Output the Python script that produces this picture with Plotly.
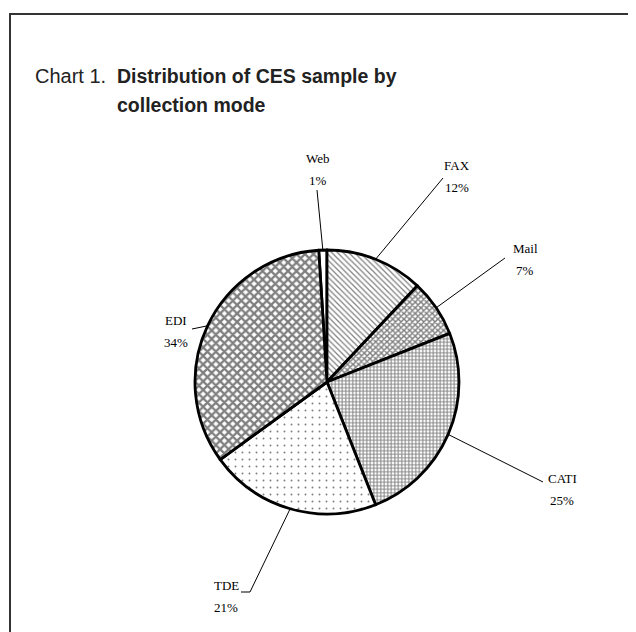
import math
import plotly.graph_objects as go

# ---- data ----
modes = ["Web", "FAX", "Mail", "CATI", "TDE", "EDI"]
shares = [1, 12, 7, 25, 21, 34]
pct_labels = ["1%", "12%", "7%", "25%", "21%", "34%"]

# ---- styling / layout (coordinates in screenshot pixels) ----
W, H = 636, 632
OFF = 8                              # page body margin
CX, CY, R = 327, 382, 132            # pie centre & radius
patterns = ["", "\\", "x", "+", ".", "x"]
pat_size = [4, 4, 4, 3.5, 7, 6]
pat_sol = [0.1, 0.3, 0.6, 0.5, 0.06, 0.62]
label_pos = [(318, 158), (457, 165), (525, 248), (562, 478), (226, 585), (176, 320)]
leader_end = [(317, 190), (443, 178), (505, 258), (543, 482), (250, 592), (192, 329)]
LINE_GAP = 22

fig = go.Figure()

fig.add_trace(go.Scatter(x=[OFF, W + OFF], y=[OFF, H + OFF], mode="markers",
                         marker=dict(opacity=0), hoverinfo="skip", showlegend=False))

fig.add_trace(go.Pie(
    labels=modes, values=shares, sort=False, direction="clockwise",
    rotation=-360 * shares[0] / sum(shares),
    textinfo="none", hoverinfo="label+percent", showlegend=False,
    marker=dict(colors=["white"] * len(modes),
                line=dict(color="black", width=2.8),
                pattern=dict(shape=patterns, fgcolor="black", bgcolor="white",
                             size=pat_size, solidity=pat_sol, fillmode="overlay")),
    domain=dict(x=[(CX - OFF - R) / W, (CX - OFF + R) / W],
                y=[1 - (CY - OFF + R) / H, 1 - (CY - OFF - R) / H]),
))

shapes = []
shapes.append(dict(type="rect", xref="x", yref="y", x0=10, y0=14, x1=W + 40, y1=H + 40,
                   line=dict(color="#333333", width=2), fillcolor="rgba(0,0,0,0)"))

annotations = []
total = sum(shares)
cum = -360 * shares[0] / total
for i, (m, v) in enumerate(zip(modes, shares)):
    mid = cum + 360 * v / total / 2
    cum += 360 * v / total
    a = math.radians(mid)
    ex, ey = CX + R * math.sin(a), CY - R * math.cos(a)
    lx, ly = leader_end[i]
    shapes.append(dict(type="line", xref="x", yref="y", x0=ex, y0=ey, x1=lx, y1=ly,
                       line=dict(color="black", width=1)))
    if m == "TDE":
        shapes.append(dict(type="line", xref="x", yref="y", x0=lx, y0=ly, x1=lx - 9, y1=ly,
                           line=dict(color="black", width=1)))
    tx, ty = label_pos[i]
    for j, t in enumerate([m, pct_labels[i]]):
        annotations.append(dict(x=tx, y=ty + j * LINE_GAP, xref="x", yref="y", text=t,
                                showarrow=False,
                                font=dict(family="Liberation Serif", size=13, color="black")))

tfont = dict(family="Liberation Sans", size=20, color="#222222")
bfont = dict(family="Liberation Sans", size=19.5, color="#222222")
annotations.append(dict(x=33, y=76, xref="x", yref="y", text="Chart 1.", showarrow=False,
                        xanchor="left", yanchor="middle", font=tfont))
annotations.append(dict(x=115, y=76, xref="x", yref="y",
                        text="<b>Distribution of CES sample by</b>", showarrow=False,
                        xanchor="left", yanchor="middle", font=bfont))
annotations.append(dict(x=115, y=105, xref="x", yref="y",
                        text="<b>collection mode</b>", showarrow=False,
                        xanchor="left", yanchor="middle", font=bfont))

fig.update_layout(
    width=W, height=H, margin=dict(l=0, r=0, t=0, b=0),
    paper_bgcolor="white", plot_bgcolor="white",
    xaxis=dict(range=[OFF, W + OFF], visible=False, fixedrange=True),
    yaxis=dict(range=[H + OFF, OFF], visible=False, fixedrange=True),
    shapes=shapes, annotations=annotations,
)

fig.write_html("out.html")
